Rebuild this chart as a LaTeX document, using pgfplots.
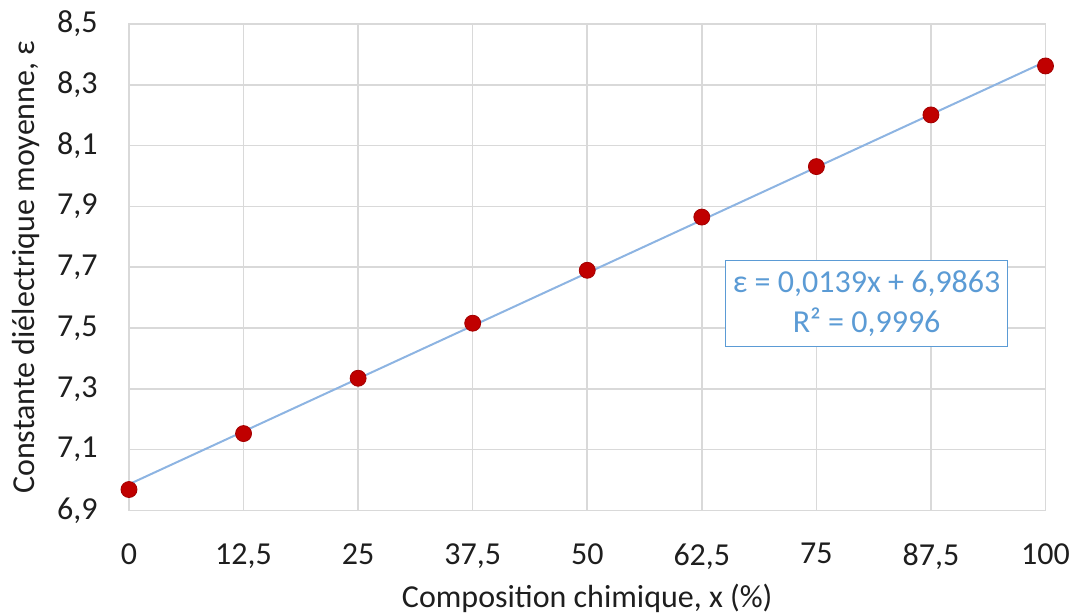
\documentclass[border=0pt]{standalone}
\usepackage{fontspec}
\setmainfont{Carlito}
\usepackage{pgfplots}
\pgfplotsset{compat=1.18}
\definecolor{gridc}{RGB}{217,217,217}
\definecolor{ptred}{RGB}{192,0,0}
\definecolor{trend}{RGB}{141,180,226}
\definecolor{boxblue}{RGB}{91,155,213}
\definecolor{txt}{RGB}{30,30,30}
\begin{document}
\begin{tikzpicture}
\begin{axis}[
  scale only axis, width=458.25pt, height=243.25pt,
  xmin=0, xmax=100, ymin=6.9, ymax=8.5,
  clip=false,
  xtick={0,12.5,25,37.5,50,62.5,75,87.5,100},
  xticklabels={0,{12,5},25,{37,5},50,{62,5},75,{87,5},100},
  ytick={6.9,7.1,7.3,7.5,7.7,7.9,8.1,8.3,8.5},
  yticklabels={{6,9},{7,1},{7,3},{7,5},{7,7},{7,9},{8,1},{8,3},{8,5}},
  grid=major, major grid style={gridc, line width=0.8pt},
  axis line style={gridc, line width=0.8pt},
  major tick length=0pt,
  /pgf/number format/assume math mode=true,
  tick label style={font=\fontsize{16}{19}\selectfont, text=txt},
  xticklabel style={anchor=north, inner sep=0pt, yshift=-16.25pt},
  yticklabel style={anchor=east, inner sep=0pt, xshift=-15.5pt},
  label style={font=\fontsize{16}{19}\selectfont, text=txt},
  xlabel={Composition chimique, x (\%)},
  xlabel style={at={(axis description cs:0.5,-0.1984)}, anchor=base},
  ylabel={Constante diélectrique moyenne, ε},
  ylabel style={at={(axis description cs:-0.1026,0.5)}, anchor=base},
]
\addplot[trend, line width=1pt, no marks] coordinates {(0,6.9863) (100,8.3763)};
\addplot[only marks, mark=*, mark size=4pt, mark options={fill=ptred, draw=ptred!85!black, line width=0.4pt}] coordinates {
(0,6.969) (12.5,7.153) (25,7.335) (37.5,7.516) (50,7.690) (62.5,7.865) (75,8.031) (87.5,8.201) (100,8.362)
};
\node[draw=boxblue, line width=0.8pt, fill=white, text=boxblue, align=center,
  font=\fontsize{16}{20}\selectfont, minimum width=141pt, minimum height=43pt, inner sep=0pt]
  at (axis cs:80.48,7.581) {ε = 0,0139x + 6,9863\\R² = 0,9996};
\coordinate (ll) at (rel axis cs:0,0);
\coordinate (ur) at (rel axis cs:1,1);
\end{axis}
\pgfresetboundingbox
\path ([shift={(-64.5pt,-52.25pt)}]ll) rectangle ([shift={(13.75pt,12pt)}]ur);
\end{tikzpicture}
\end{document}
